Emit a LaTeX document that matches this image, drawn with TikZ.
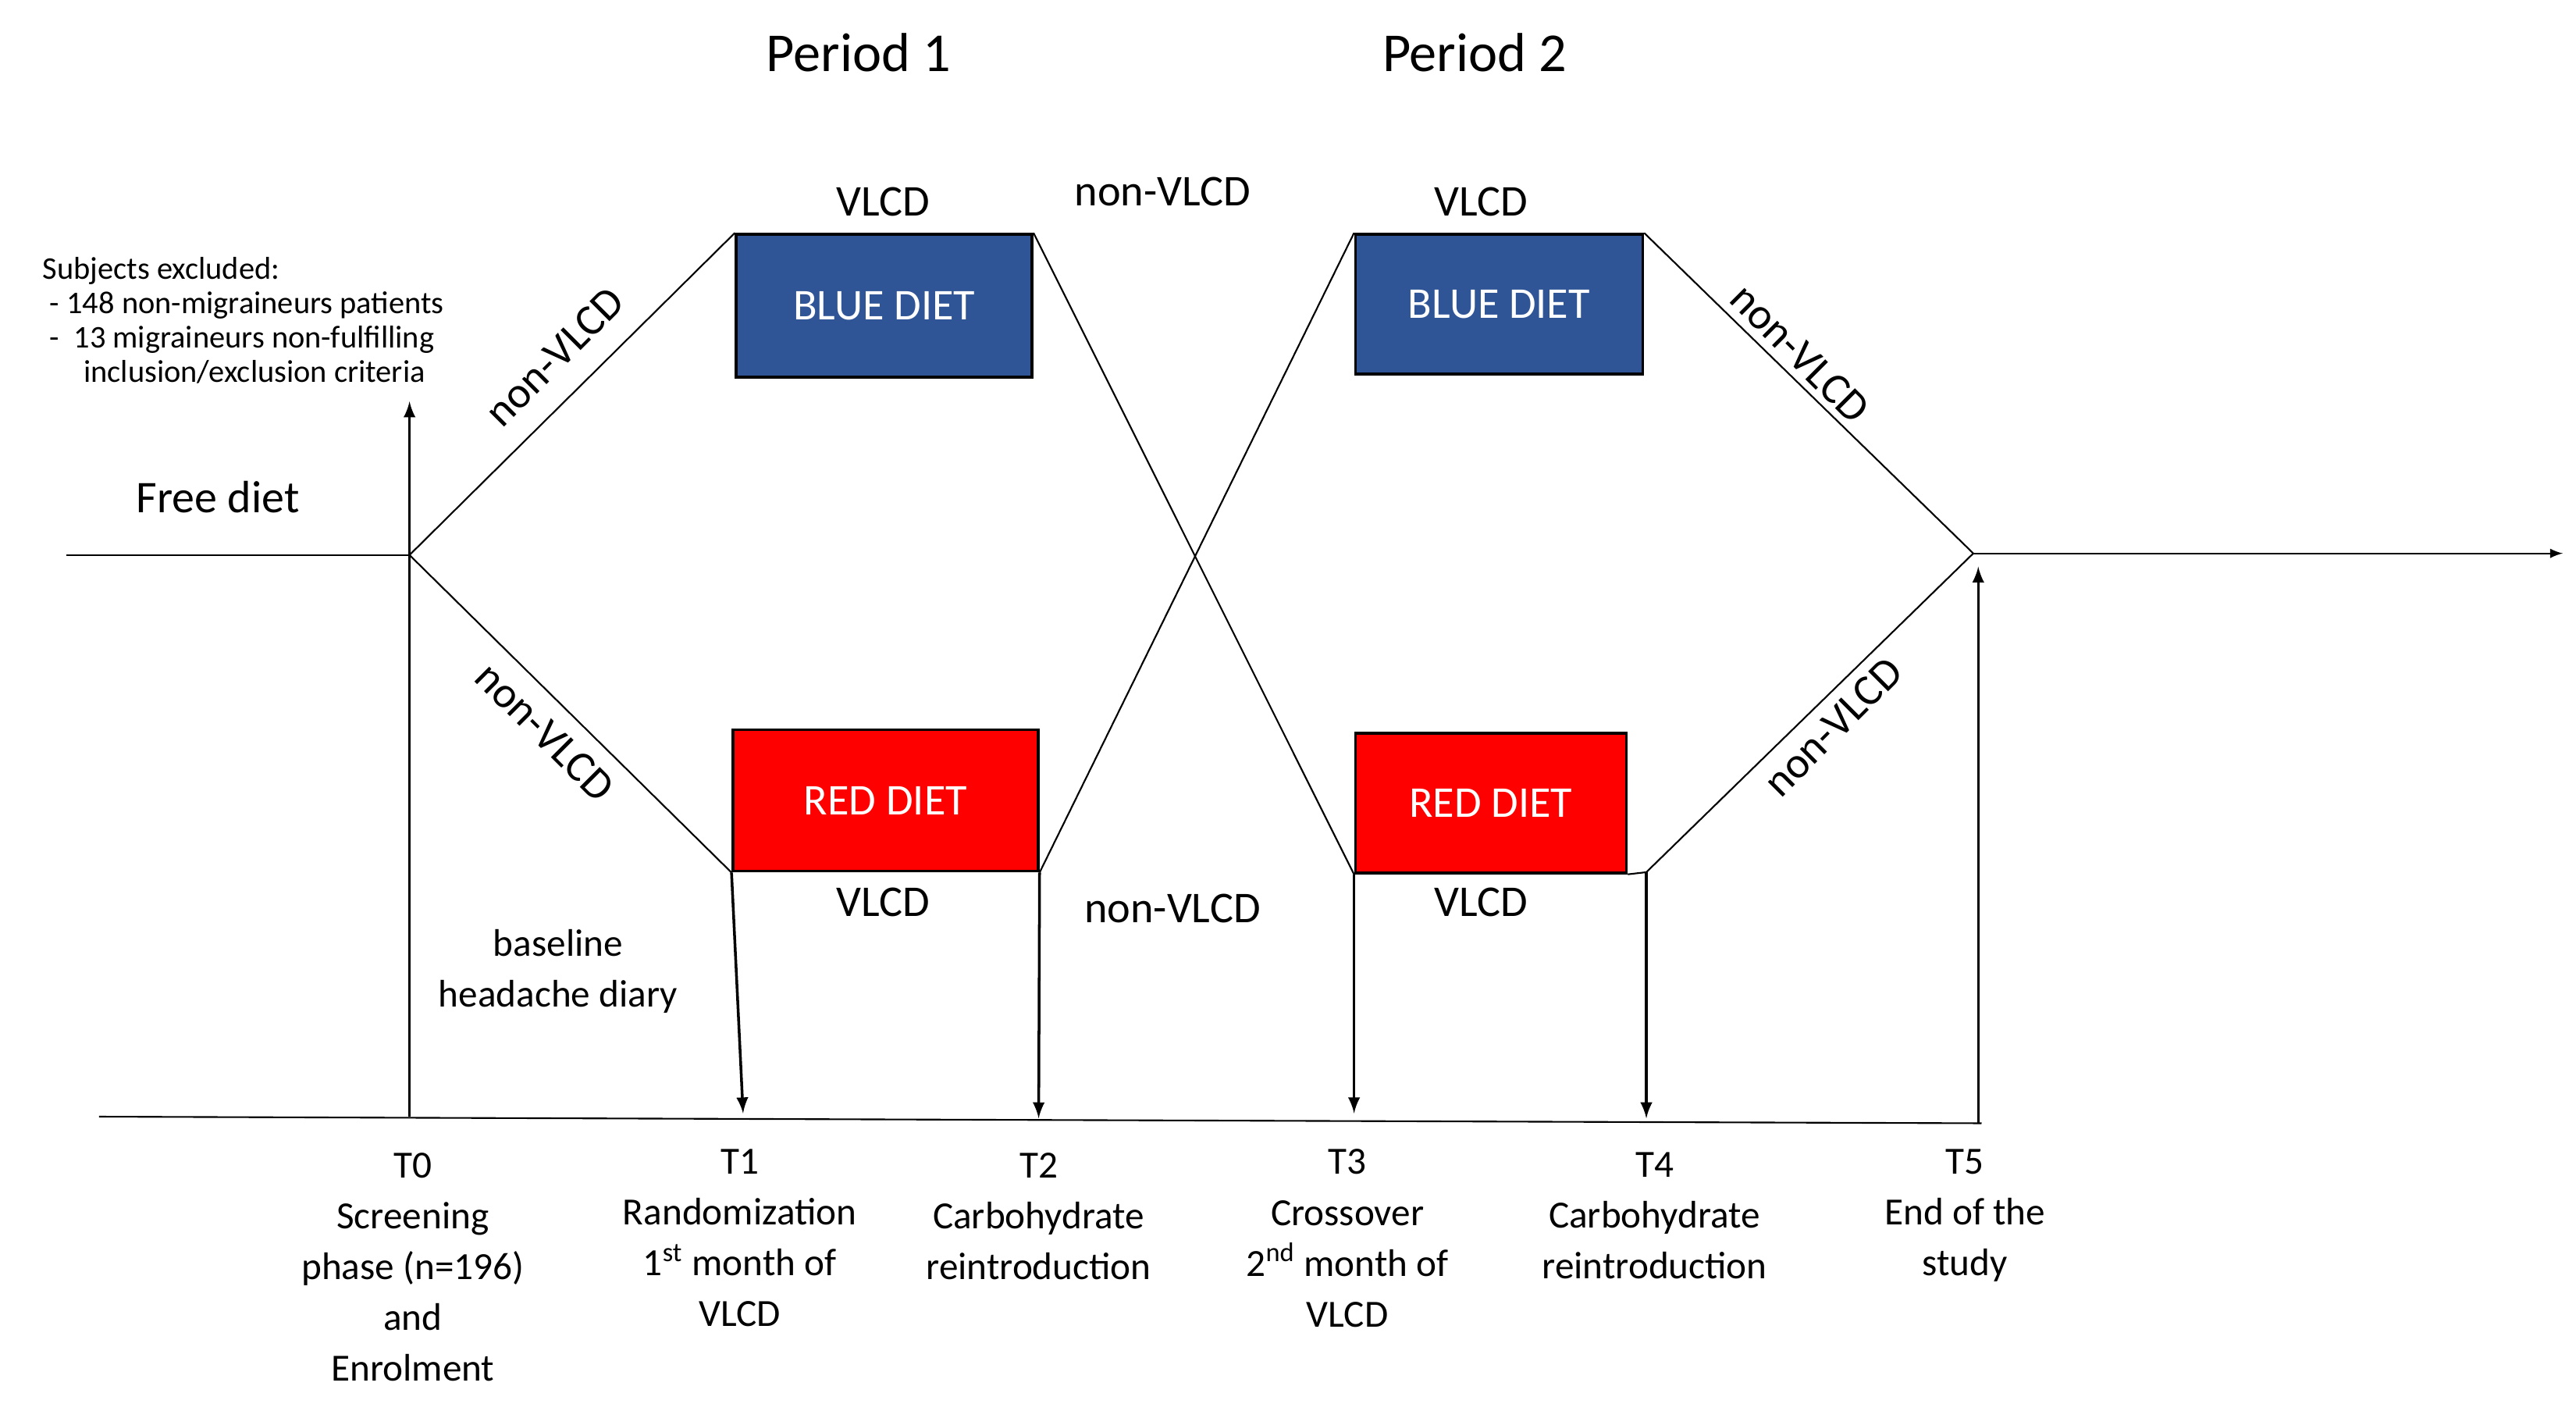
\documentclass[tikz,border=0pt]{standalone}
\usepackage{fontspec}
\setmainfont{Carlito}
\usetikzlibrary{positioning}
\definecolor{blueDiet}{RGB}{47,85,151}
\definecolor{redDiet}{RGB}{255,0,0}
\tikzset{
  diet/.style={draw=black, line width=1pt, text=white, font=\fontsize{16}{18}\selectfont, inner sep=0pt},
  lbl/.style={font=\fontsize{16}{18}\selectfont},
  tlbl/.style={font=\fontsize{14}{18.5}\selectfont, align=center, anchor=north},
  flow/.style={line width=0.6pt},
  tarrow/.style={line width=1pt, -latex}
}
\begin{document}
\begin{tikzpicture}[x=0.021154cm, y=-0.021154cm]
    \useasboundingbox (0,0) rectangle (1560,849.5);
    % Periods
    \node[font=\fontsize{20}{24}\selectfont] at (520,32) {Period 1};
    \node[font=\fontsize{20}{24}\selectfont] at (893,32) {Period 2};

    % Diet boxes
    \node[diet, fill=blueDiet, anchor=north west, minimum width=3.79cm, minimum height=1.83cm] (B1) at (445,141) {BLUE DIET};
    \node[diet, fill=redDiet, anchor=north west, minimum width=3.91cm, minimum height=1.81cm] (R1) at (443,441) {RED DIET};
    \node[diet, fill=blueDiet, anchor=north west, minimum width=3.68cm, minimum height=1.79cm] (B2) at (820,141) {BLUE DIET};
    \node[diet, fill=redDiet, anchor=north west, minimum width=3.47cm, minimum height=1.79cm] (R2) at (820,443) {RED DIET};

    % Key points
    \coordinate (S) at (40,336);
    \coordinate (J0) at (248,336);
    \coordinate (J5) at (1195,335);
    \coordinate (E) at (1552,335);
    \coordinate (R2r) at (997,528);

    % Flow lines
    \draw[flow] (S) -- (J0);
    \draw[flow] (J0) -- (B1.north west);
    \draw[flow] (J0) -- (R1.south west);
    \draw[flow] (B1.north east) -- (R2.south west);
    \draw[flow] (R1.south east) -- (B2.north west);
    \draw[flow] (B2.north east) -- (J5);
    \draw[flow] (R2.south east) -- (R2r) -- (J5);
    \draw[flow, -latex] (J5) -- (E);

    % Time axis
    \coordinate (A0) at (60,676);
    \coordinate (A1) at (1200,680);
    \draw[flow] (A0) -- (A1);
    \draw[tarrow] (248,676) -- (248,243);
    \draw[tarrow] (R1.south west) -- (450,674);
    \draw[tarrow] (R1.south east) -- (629,677);
    \draw[tarrow] (R2.south west) -- (820,674);
    \draw[tarrow] (R2r) -- (997,677);
    \draw[tarrow] (1198,680) -- (1198,343);

    % Labels
    \node[lbl] at (535,122) {VLCD};
    \node[lbl] at (897,122) {VLCD};
    \node[lbl] at (535,546) {VLCD};
    \node[lbl] at (897,546) {VLCD};
    \node[lbl] at (704,116) {non-VLCD};
    \node[lbl] at (710,550) {non-VLCD};
    \node[lbl, rotate=45] at (336,216) {non-VLCD};
    \node[lbl, rotate=-45] at (330,443) {non-VLCD};
    \node[lbl, rotate=-45] at (1090,214) {non-VLCD};
    \node[lbl, rotate=45] at (1110,440) {non-VLCD};
    \node[font=\fontsize{16.5}{19}\selectfont] at (132,301) {Free diet};
    \node[font=\fontsize{11.5}{13.5}\selectfont, align=left, anchor=north west] at (20,150)
      {Subjects excluded:\\[-1pt]\ - 148 non-migraineurs patients\\[-1pt]\ -\ \ 13 migraineurs non-fulfilling\\[-1pt]\hspace{1.3em}inclusion/exclusion criteria};
    \node[font=\fontsize{14}{18.5}\selectfont, align=center] at (338,588) {baseline\\headache diary};

    % Time points
    \node[tlbl] at (250,692) {T0\\Screening\\phase (n=196)\\and\\Enrolment};
    \node[tlbl] at (448,690) {T1\\Randomization\\1\textsuperscript{st} month of\\VLCD};
    \node[tlbl] at (629,692) {T2\\Carbohydrate\\reintroduction};
    \node[tlbl] at (816,690) {T3\\Crossover\\2\textsuperscript{nd} month of\\VLCD};
    \node[tlbl] at (1002,692) {T4\\Carbohydrate\\reintroduction};
    \node[tlbl] at (1190,690) {T5\\End of the\\study};
\end{tikzpicture}
\end{document}
